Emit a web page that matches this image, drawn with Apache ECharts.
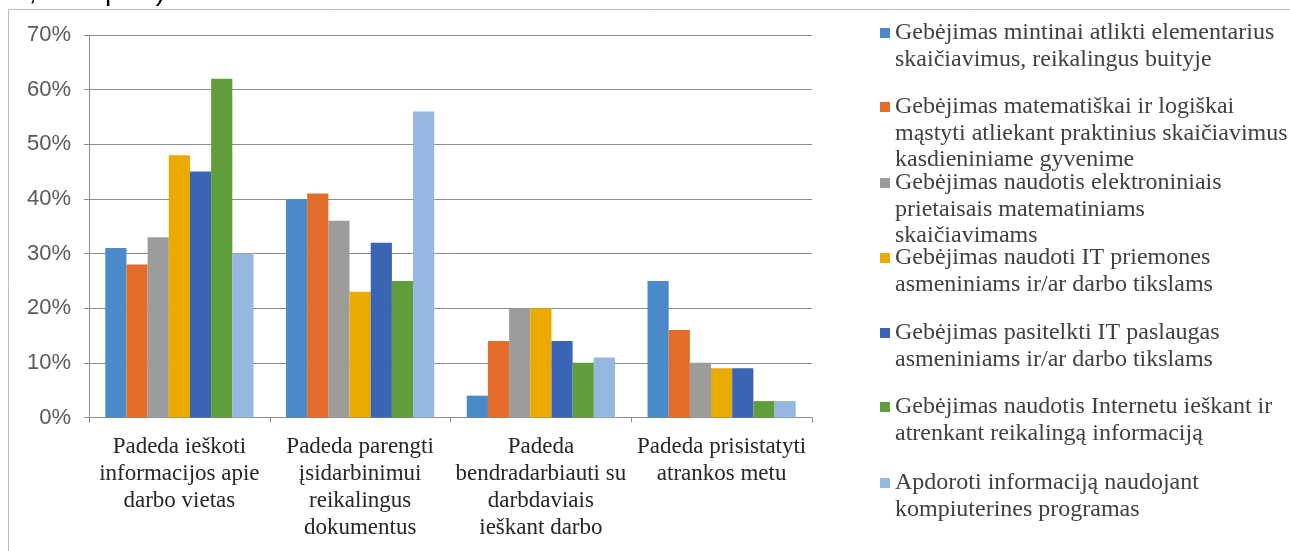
<!DOCTYPE html>
<html>
<head>
<meta charset="utf-8">
<script src="https://cdn.jsdelivr.net/npm/echarts@6/dist/echarts.min.js"></script>
<style>
  html, body { margin: 0; padding: 0; background: #ffffff; }
  #chart { width: 1290px; height: 551px; }
</style>
</head>
<body>
<div id="chart"></div>
<script>
// Job-search usefulness of each skill, % of respondents
const categories = [
  'Padeda ieškoti\ninformacijos apie\ndarbo vietas',
  'Padeda parengti\nįsidarbinimui\nreikalingus\ndokumentus',
  'Padeda\nbendradarbiauti su\ndarbdaviais\nieškant darbo',
  'Padeda prisistatyti\natrankos metu'
];

// Skill names, one array of lines per series
const seriesLines = [
  ['Gebėjimas mintinai atlikti elementarius', 'skaičiavimus, reikalingus buityje'],
  ['Gebėjimas matematiškai ir logiškai', 'mąstyti atliekant praktinius skaičiavimus', 'kasdieniniame gyvenime'],
  ['Gebėjimas naudotis elektroniniais', 'prietaisais matematiniams', 'skaičiavimams'],
  ['Gebėjimas naudoti IT priemones', 'asmeniniams ir/ar darbo tikslams'],
  ['Gebėjimas pasitelkti IT paslaugas', 'asmeniniams ir/ar darbo tikslams'],
  ['Gebėjimas naudotis Internetu ieškant ir', 'atrenkant reikalingą informaciją'],
  ['Apdoroti informaciją naudojant', 'kompiuterines programas']
];

const mentalArithmetic   = [31, 40, 4, 25];
const logicalReasoning   = [28, 41, 14, 16];
const electronicDevices  = [33, 36, 20, 10];
const itTools            = [48, 23, 20, 9];
const itServices         = [45, 32, 14, 9];
const internetSearch     = [62, 25, 10, 3];
const computerPrograms   = [30, 56, 11, 3];

const seriesValues = [
  mentalArithmetic, logicalReasoning, electronicDevices, itTools,
  itServices, internetSearch, computerPrograms
];

const yTicks = { min: 0, max: 70, step: 10 };

const colors = ['#4a8ac8', '#e36c2a', '#9c9c9c', '#eaaa00', '#3a64b4', '#5f9e3a', '#95b7e0'];

const SERIF = "'Liberation Serif', 'Times New Roman', serif";
const SANS = "'Liberation Sans', Arial, sans-serif";

const seriesNames = seriesLines.map(l => l.join(' '));
const wrapped = {};
seriesLines.forEach((l, i) => {
  // leading blank lines keep the icon level with the first text line
  wrapped[seriesNames[i]] = '\n'.repeat(l.length - 1) + l.join('\n');
});

// Legend: one block per skill
const legendLine = 26.5;
const legendFirstLine = [33, 107, 183, 258, 333, 407, 483];
const legends = seriesNames.map((name, i) => {
  const n = seriesLines[i].length;
  return {
    data: [name],
    orient: 'vertical',
    left: 880,
    top: legendFirstLine[i] - (2 * n - 1) * legendLine / 2,
    padding: 0,
    itemWidth: 10,
    itemHeight: 10,
    icon: 'rect',
    selectedMode: false,
    formatter: nm => wrapped[nm],
    textStyle: {
      fontFamily: SERIF,
      fontSize: 24,
      lineHeight: legendLine,
      color: '#404040'
    }
  };
});

const chart = echarts.init(document.getElementById('chart'), null, { renderer: 'canvas' });

chart.setOption({
  animation: false,
  color: colors,
  backgroundColor: '#ffffff',
  grid: { left: 89, right: 478, top: 35, bottom: 133.5, containLabel: false },
  legend: legends,
  graphic: [
    {
      type: 'text',
      left: -4,
      top: -22,
      silent: true,
      style: {
        text: '%., žr. 2 pav.).',
        fontFamily: SANS,
        fontSize: 28,
        fill: '#000000'
      }
    },
    {
      type: 'rect',
      silent: true,
      shape: { x: 8.5, y: 9.5, width: 1400, height: 700 },
      style: { fill: 'none', stroke: '#bdbdbd', lineWidth: 1 }
    }
  ],
  xAxis: {
    type: 'category',
    data: categories,
    boundaryGap: true,
    axisLine: { lineStyle: { color: '#8c8c8c', width: 1 } },
    axisTick: { show: true, length: 5, lineStyle: { color: '#8c8c8c' } },
    axisLabel: {
      interval: 0,
      margin: 16,
      fontFamily: SERIF,
      fontSize: 23,
      lineHeight: 27,
      color: '#262626',
      align: 'center'
    },
    splitLine: { show: false }
  },
  yAxis: {
    type: 'value',
    min: yTicks.min,
    max: yTicks.max,
    interval: yTicks.step,
    axisLine: { show: true, lineStyle: { color: '#8c8c8c', width: 1 } },
    axisTick: { show: true, length: 5, lineStyle: { color: '#8c8c8c' } },
    axisLabel: {
      margin: 18,
      formatter: '{value}%',
      fontFamily: SANS,
      fontSize: 22,
      color: '#595959'
    },
    splitLine: { show: true, lineStyle: { color: '#8c8c8c', width: 1 } }
  },
  series: seriesNames.map((name, i) => ({
    name: name,
    type: 'bar',
    data: seriesValues[i],
    barGap: '0%',
    barCategoryGap: '18%',
    itemStyle: { color: colors[i] }
  }))
});
</script>
</body>
</html>
